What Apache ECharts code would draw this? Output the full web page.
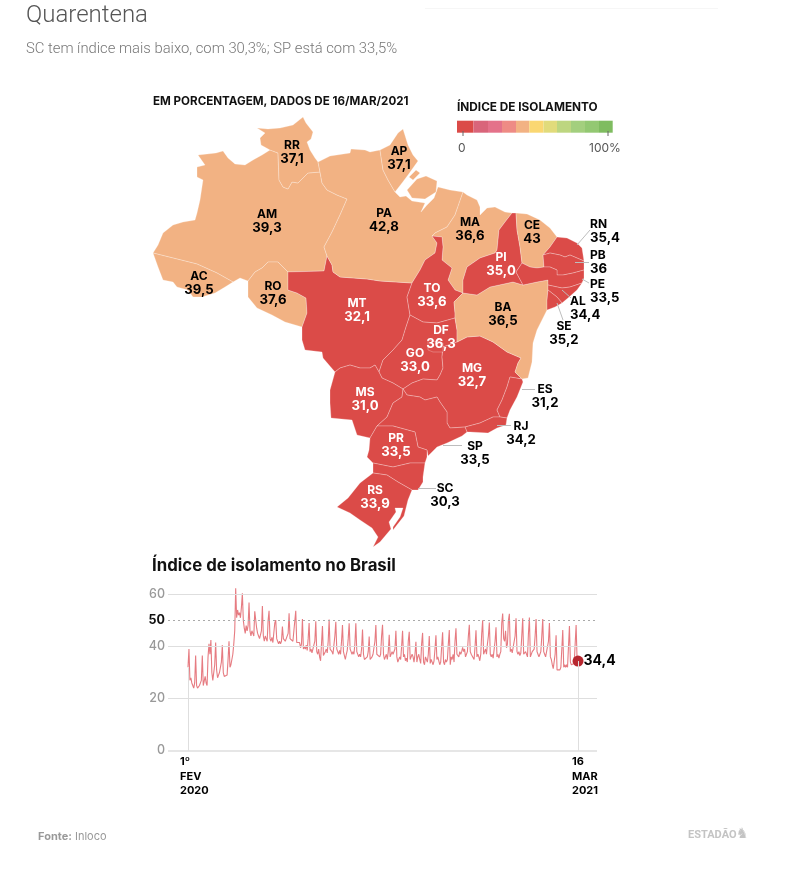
<!DOCTYPE html>
<html><head><meta charset="utf-8">
<style>html,body{margin:0;padding:0;background:#fff}#c{width:786px;height:878px}</style>
<script src="https://cdn.jsdelivr.net/npm/echarts@6/dist/echarts.min.js"></script>
</head><body><div id="c"></div>
<script>
const FONT='Inter, Roboto, sans-serif';
const stateCodes=['RR','AP','AM','PA','MA','CE','RN','PB','PE','AL','SE','AC','RO','MT','TO','PI','BA','DF','GO','MG','MS','PR','RS','ES','RJ','SP','SC'];
const stateValues=['37,1','37,1','39,3','42,8','36,6','43','35,4','36','33,5','34,4','35,2','39,5','37,6','32,1','33,6','35,0','36,5','36,3','33,0','32,7','31,0','33,5','33,9','31,2','34,2','33,5','30,3'];
const whiteLabels=['MT','TO','PI','DF','GO','MG','MS','PR','RS'];
const leftLabels=['RN','PB','PE','AL'];
const labelAnchors=[[292,153],[399,159],[267,222],[384,221],[470,230],[532,233],[590,232],[590,263],[590,292],[570,309],[564,334],[199,284],[273,294],[357,311],[432,296],[501,265],[503,315],[441,338],[415,361],[472,376],[365,400],[396,446],[375,498],[545,397],[521,434],[475,454],[445,496]];
const leaders=[[[577,245],[590,230]],[[575,262],[589,262]],[[582,279],[589,283]],[[562,290],[571,298]],[[557,303],[563,320]],[[522,389],[535,389]],[[497,425],[511,425]],[[443,445],[462,445]],[[418,488],[436,488]]];
const legendColors=['#db4b48','#d9657a','#e4728a','#ee8b85','#f2b283','#fad772','#e1db7b','#bdd680','#a3cf7e','#93c872','#7fbc60'];
const yTicks=[0,20,40,50,60];
const xLabels=['1º\nFEV\n2020','16\nMAR\n2021'];
const lastLabel='34,4';
// daily index, Sat..Fri rows, 1 Feb 2020 - 16 Mar 2021
const dailyIndex=[
32,39,27,28,26,25,24,
26,36.5,25,24,24,25,24.5,
27,36.5,25,24.5,28.5,26,25,
36,41,37,42.5,30,27,27.5,
33,41.5,31,28,29,30,29.5,
34,40.5,30,28.5,29,28,29,
35,42,32,33,35,37,41,
46,62.3,51,54,52,53,51,
55,60.4,50,47,45,48,46,
48,56.9,46,44,46,45,44,
53.5,54.2,47,45,44,43,43.5,
46,55.5,44,42,44,43,42,
50,53.7,43,42,43.5,41.5,42,
49,50.1,43,42,41,42,41,
42,47.6,43,43.5,42,43,42.5,
45,52.7,43,42.5,43,42,41.5,
42,53.7,41.5,41,42,41.5,39.5,
41,50.5,39,40,39,40.5,38.5,
43,49,38,39,37.5,38,37,
42,49.7,38,37,39,36,34.5,
41,47.8,36.5,37,38,39,37.5,
42,50.3,39,38.5,38,37,37.5,
44,49.5,39,38,37,38.5,37,
42,48.2,38,36.5,35,37,38.5,
43,48.9,39,38,37,38,37,
41,48.9,38,37.5,36,37,36,
39,46.5,37,35,35.5,34.5,36,
38,43.8,35,34.5,36,37,36.5,
42,48.2,37,36.5,37,36,37,
44,48.3,37,35,36,37,35,
38,44.5,36,35.5,38,37,36.5,
39,46,36,34,35,36,35,
40,46,36,37,34.5,35.5,34,
42,45.6,35,36,37,36,34,
37,41.8,34,36,37,35,33.5,
41,45.2,34,33,36,35,34,
37,44,33.5,35,34,33,34.5,
39,44.3,35,36,34.5,33,34,
40,45.4,34,33,35,34,35,
41,46.3,33,36,35,37,34,
42,47,37,37.5,36,38,37,
38,39.6,38,39,36,37,38,
44,48.3,38,37,36.5,37,35,
40,46.2,36,37,36,34.5,37,
45,50,37,38,39,37,41,
44,49.2,37,36,37,35.5,36,
42,47.4,36,37,35.5,37,38,
49,52.6,43,42,46,39.5,41,
50,52.5,38,39,37.5,38,37,
44,50.8,38,37,38,36.5,37.5,
44,50.8,37,37.5,38,37,36,
45,51.1,36,37,38,37.5,39,
44,50.5,38,37,36,37,38,
44,50.5,38,37,36,35.5,36,
42,49,36,35,33,31.5,31,
37,44.3,31,31.5,30.5,31,32,
39,46.3,32,33,32,33,32,
40,47.8,34,33,32.5,33,33.5,
41,48.2,35,34.4];

// shared state borders (outline geometry of the base map)
const arcs={
amN:[[153,253],[158,245],[163,233],[173,225],[183,222],[195,220],[197,213],[200,200],[203,180],[197,177],[197,167],[205,165],[198,155],[216,153],[223,151],[228,158],[235,164],[245,165],[253,160],[262,155],[270,150]],
rrOut:[[270,150],[261,145],[260,138],[265,133],[257,128],[268,129],[280,128],[293,125],[303,117],[306,123],[313,132],[311,139],[307,142],[310,150],[315,158],[318,162]],
rrAm:[[270,150],[278,153],[279,180],[283,187],[288,189],[292,182],[298,183],[303,178],[308,173],[320,172]],
rrPa:[[318,162],[320,172]],
amPa:[[320,172],[322,183],[327,190],[337,195],[347,199],[340,215],[332,232],[324,247],[327,256]],
amMt:[[327,256],[324,271],[288,272]],
amRo:[[288,272],[278,262],[268,262],[262,268],[255,272],[248,281]],
amS:[[248,281],[240,278],[233,282]],
acAm:[[233,282],[217,273],[197,264],[173,258],[153,253]],
acOut:[[233,282],[225,287],[215,293],[202,297],[193,297],[188,290],[177,287],[173,282],[163,280],[158,267],[153,253]],
roOut:[[248,281],[248,297],[257,308],[272,315],[285,322],[302,327]],
roMt:[[288,272],[288,290],[297,293],[306,298],[307,313],[302,327]],
mtS:[[302,327],[302,340],[305,350],[322,352],[323,358],[335,372]],
mtMs:[[335,372],[340,368],[350,365],[360,368],[370,368],[375,365],[379,372]],
mtGo:[[379,372],[383,360],[393,350],[402,340],[406,327],[410,315]],
mtTo:[[410,315],[407,297],[412,283]],
mtPa:[[327,256],[332,265],[333,272],[340,277],[367,279],[380,281],[412,283]],
paTo:[[412,283],[420,270],[425,260],[435,253],[437,243],[432,236]],
maTo:[[432,236],[442,237],[443,247],[442,260],[452,268],[448,280],[455,290],[463,293]],
toBa:[[463,293],[454,302],[455,313],[455,318]],
toGo:[[410,315],[423,322],[437,323],[455,318]],
goBa:[[455,318],[457,330],[457,342]],
goMg:[[457,342],[443,347],[442,357],[443,368],[440,375],[437,380],[423,379],[412,383],[403,389]],
goMs:[[379,372],[382,378],[393,383],[403,389]],
msSp:[[403,389],[402,397],[393,403],[387,417],[377,426]],
msPr:[[377,426],[370,438]],
msOut:[[335,372],[330,390],[330,403],[331,418],[352,420],[357,435],[370,438]],
prOut:[[370,438],[369,450],[367,457],[373,463]],
prSc:[[373,463],[393,467],[410,463],[425,463]],
prSp:[[377,426],[393,426],[415,432],[418,447],[427,450],[427,457]],
prCoast:[[427,457],[425,463]],
spCoast:[[467,432],[462,436],[447,443],[437,447],[428,456],[427,457]],
spMg:[[403,389],[407,395],[420,397],[425,400],[437,397],[440,402],[447,412],[447,423],[450,428],[465,427]],
spRj:[[465,427],[467,432]],
rjOut:[[467,432],[470,432],[488,433],[497,428],[506,425],[507,418]],
rjEs:[[507,418],[500,417]],
mgRj:[[465,427],[480,423],[493,417],[500,417]],
mgEs:[[500,417],[497,410],[502,400],[507,387],[510,377],[522,379]],
esOut:[[522,379],[523,382],[517,397],[510,410],[507,418]],
baMg:[[457,342],[467,337],[480,336],[493,342],[507,352],[521,358],[518,363],[515,372],[522,379]],
baCoast:[[522,379],[528,378],[532,362],[533,343],[537,330],[547,310]],
baSe:[[547,310],[547,300],[548,290]],
baNE:[[463,293],[477,295],[490,287],[513,282],[523,285]],
baPe:[[523,285],[537,282],[548,280],[548,285]],
baAl:[[548,285],[548,290]],
scCoast:[[425,463],[423,477],[423,482],[418,490],[412,490]],
scW:[[373,463],[373,473]],
rsSc:[[373,473],[387,475],[398,482],[412,490]],
rsOut:[[373,473],[360,483],[348,498],[337,507],[350,513],[360,520],[372,528],[378,537],[373,547],[380,542],[391,529],[389,522],[396,512],[395,508],[403,508],[400,517],[393,527],[393,530],[404,516],[408,500],[412,490]],
paN:[[318,162],[330,156],[350,153],[351,149],[365,150],[370,152],[380,150]],
apPa:[[380,150],[383,170],[388,180],[395,192]],
apOut:[[380,150],[390,145],[398,133],[403,129],[408,145],[413,155],[418,161],[413,168],[408,175],[402,183],[395,192]],
paCoast:[[395,192],[400,197],[406,196],[412,201],[425,203],[421,212],[427,205],[434,198],[438,187],[450,190],[463,192]],
paMa:[[432,236],[435,233],[447,227],[455,215],[463,192]],
maCoast:[[463,192],[467,195],[477,200],[480,207],[480,215],[487,208],[495,207],[505,212],[512,213]],
maPi:[[512,213],[505,222],[499,230],[497,250],[495,253],[480,258],[467,267],[463,280],[463,293]],
piCoast:[[512,213],[516,213]],
piCe:[[516,213],[517,230],[520,247],[522,263]],
piPe:[[522,263],[516,272],[523,285]],
ceCoast:[[516,213],[527,214],[540,220],[550,228],[557,237]],
ceRn:[[557,237],[550,247],[543,255]],
cePb:[[543,255],[544,267]],
cePe:[[544,267],[537,268],[530,267],[522,263]],
rnCoast:[[557,237],[567,238],[577,243],[582,248],[584,261]],
rnPb:[[543,255],[550,253],[560,255],[565,257],[570,255],[577,258],[584,261]],
pbCoast:[[584,261],[584,270]],
pbPe:[[544,267],[550,267],[557,270],[557,275],[563,275],[573,273],[584,270]],
peCoast:[[584,270],[584,278],[582,283]],
peAl:[[548,285],[562,288],[570,287],[582,283]],
alCoast:[[582,283],[577,290],[568,298],[562,303]],
alSe:[[548,290],[557,297],[562,303]],
seCoast:[[562,303],[555,307],[547,310]]
};
const rings={
AM:['amN','rrAm','amPa','amMt','amRo','amS','acAm'],RR:['rrOut','rrPa','-rrAm'],AC:['acOut','-acAm'],
RO:['roOut','-roMt','amRo'],MT:['mtPa','-mtTo','-mtGo','-mtMs','-mtS','-roMt','-amMt'],
PA:['paN','apPa','paCoast','-paMa','-paTo','-mtPa','-amPa','-rrPa'],AP:['apOut','-apPa'],MA:['maCoast','maPi','-maTo','paMa'],
TO:['paTo','maTo','toBa','-toGo','mtTo'],GO:['toGo','goBa','goMg','-goMs','mtGo'],MS:['mtMs','goMs','msSp','msPr','-msOut'],
MG:['baMg','-mgEs','-mgRj','-spMg','-goMg'],ES:['esOut','rjEs','mgEs'],RJ:['rjOut','rjEs','-mgRj','spRj'],
SP:['spMg','spRj','spCoast','-prSp','-msSp'],PR:['prSp','prCoast','-prSc','-prOut','-msPr'],SC:['prSc','scCoast','-rsSc','-scW'],RS:['rsOut','-rsSc'],
BA:['baNE','baPe','baAl','-baSe','-baCoast','-baMg','-goBa','-toBa'],PI:['piCoast','piCe','piPe','-baNE','-maPi'],
CE:['ceCoast','ceRn','cePb','cePe','-piCe'],RN:['rnCoast','-rnPb','-ceRn'],PB:['pbCoast','-pbPe','-cePb','rnPb'],
PE:['peCoast','-peAl','-baPe','-piPe','-cePe','pbPe'],AL:['alCoast','-alSe','-baAl','peAl'],SE:['seCoast','baSe','alSe']
};
const extraPolys={
PA:[[[417,179],[426,176],[437,181],[436,192],[425,199],[412,198],[407,190],[417,179]],
    [[409,177],[416,170],[420,173],[413,180],[409,177]]]
};
const dfRing=[[428,340],[443,343],[443,352],[433,352],[428,350],[428,340]];

function buildRing(spec){const r=[];spec.forEach(s=>{const rev=s[0]==='-';const a=arcs[rev?s.slice(1):s];(rev?a.slice().reverse():a).forEach(p=>r.push(p));});r.push(r[0]);return r;}
const features=Object.keys(rings).map(n=>{
  const ring=buildRing(rings[n]);
  const geometry=extraPolys[n]?{type:'MultiPolygon',coordinates:[[ring]].concat(extraPolys[n].map(p=>[p]))}:{type:'Polygon',coordinates:[ring]};
  return {type:'Feature',properties:{name:n},geometry};
});
features.push({type:'Feature',properties:{name:'DF'},geometry:{type:'Polygon',coordinates:[dfRing]}});
echarts.registerMap('BR',{type:'FeatureCollection',features});

const num=s=>parseFloat(s.replace(',','.'));
const chart=echarts.init(document.getElementById('c'),null,{renderer:'canvas'});
const identity={project:p=>[p[0],p[1]],unproject:p=>[p[0],p[1]]};
const n=dailyIndex.length;
const lineData=dailyIndex.map((v,i)=>[i,v]);
const gridGray='#dedede';
const legendX=[457,473.5,488,502,516,529.3,543.5,557,571,585,599,612.7];
const graphic=[
 {type:'line',shape:{x1:425,y1:8.5,x2:718,y2:8.5},style:{stroke:'#f6f6f6',lineWidth:1}},
 {type:'text',left:26,top:4,style:{text:'Quarentena',font:'300 24px Roboto, sans-serif',fill:'#555'}},
 {type:'text',left:26,top:42,style:{text:'SC tem índice mais baixo, com 30,3%; SP está com 33,5%',font:'300 14.8px Roboto, sans-serif',fill:'#777'}},
 {type:'text',left:153,top:96,style:{text:'EM PORCENTAGEM, DADOS DE 16/MAR/2021',font:'700 11.6px '+FONT,fill:'#111'}},
 {type:'text',left:457,top:101,style:{text:'ÍNDICE DE ISOLAMENTO',font:'700 11.8px '+FONT,fill:'#111'}},
 {type:'text',left:152,top:557,style:{text:'Índice de isolamento no Brasil',font:'700 16.8px '+FONT,fill:'#111'}},
 {type:'text',left:458,top:142,style:{text:'0',font:'400 12px '+FONT,fill:'#555'}},
 {type:'text',left:589,top:142,style:{text:'100%',font:'400 12px '+FONT,fill:'#555'}},
 {type:'text',left:38,top:831,style:{text:'Fonte:',font:'700 11px '+FONT,fill:'#999'}},
 {type:'text',left:75,top:831,style:{text:'Inloco',font:'400 11px '+FONT,fill:'#999'}},
 {type:'text',left:688,top:830,style:{text:'ESTADÃO',font:'700 11px Roboto, sans-serif',fill:'#c4c4c4'}},
 {type:'text',left:736,top:827,style:{text:'♞',font:'400 14px "DejaVu Sans"',fill:'#c4c4c4'}}
];
legendColors.forEach((c,i)=>graphic.push({type:'rect',shape:{x:legendX[i],y:120.7,width:legendX[i+1]-legendX[i],height:12},style:{fill:c}}));
[463,608].forEach(x=>graphic.push({type:'line',z:5,shape:{x1:x,y1:131,x2:x,y2:136},style:{stroke:'#666',lineWidth:1}}));

chart.setOption({
 animation:false,
 textStyle:{fontFamily:FONT},
 graphic,
 geo:{map:'BR',projection:identity,boundingCoords:[[0,0],[786,878]],left:0,top:0,width:786,height:878,roam:false,silent:true,
   label:{show:false},itemStyle:{borderColor:'rgba(255,255,255,0.32)',borderWidth:0.8},emphasis:{disabled:true}},
 visualMap:{show:false,seriesIndex:0,type:'piecewise',pieces:[{lt:36.4,color:'#db4b48'},{gte:36.4,color:'#f2b283'}]},
 grid:{left:168,width:429,top:583.9,height:166.8,containLabel:false},
 xAxis:{type:'value',min:-20.98,max:428.9,splitLine:{show:false},axisLine:{show:false},
   axisTick:{show:false},axisLabel:{show:false}},
 yAxis:{type:'value',min:0,max:64,interval:10,splitLine:{show:false},axisLine:{show:false},axisTick:{show:false},
   axisLabel:{margin:3,showMaxLabel:false,color:'#999',fontSize:12.5,fontWeight:500,fontFamily:FONT,
     formatter:v=>v===50?'{b|50}':(yTicks.includes(v)?String(v):''),rich:{b:{color:'#111',fontWeight:700,fontSize:12.5,fontFamily:FONT}}}},
 series:[
  {type:'map',geoIndex:0,data:stateCodes.map((c,i)=>({name:c,value:num(stateValues[i])}))},
  {type:'lines',coordinateSystem:'geo',polyline:false,silent:true,symbol:'none',z:3,
   lineStyle:{color:'#bdbdbd',width:1,opacity:1,curveness:0},data:leaders.map(l=>({coords:l}))},
  {type:'scatter',coordinateSystem:'geo',symbolSize:0,silent:true,z:5,itemStyle:{opacity:1},
   data:stateCodes.map((c,i)=>{
     const left=leftLabels.includes(c), col=whiteLabels.includes(c)?'#fff':'#000', al=left?'left':'center';
     return {value:labelAnchors[i],name:c,
     label:{show:true,position:'inside',align:al,opacity:1,formatter:()=>`{a|${c}}\n{v|${stateValues[i]}}`,
       rich:{a:{fontFamily:FONT,fontWeight:700,fontSize:12,lineHeight:13,align:al,color:col},
             v:{fontFamily:FONT,fontWeight:700,fontSize:13.2,lineHeight:15,align:al,color:col}}}};})},
  {type:'line',xAxisIndex:0,yAxisIndex:0,data:[[0,0]],showSymbol:false,silent:true,z:1,lineStyle:{opacity:0},
   markLine:{silent:true,symbol:'none',label:{show:false},animation:false,data:[
     {yAxis:60,lineStyle:{color:gridGray,width:1,type:'solid'}},
     {yAxis:50,lineStyle:{color:'#aaa',width:1,type:[2,3]}},
     {yAxis:40,lineStyle:{color:gridGray,width:1,type:'solid'}},
     {yAxis:20,lineStyle:{color:gridGray,width:1,type:'solid'}},
     {yAxis:0,lineStyle:{color:'#e6e6e6',width:2,type:'solid'}},
     [{coord:[0,0],lineStyle:{color:gridGray,width:1,type:'solid'}},{coord:[0,dailyIndex[0]]}],
     [{coord:[n-1,0],lineStyle:{color:gridGray,width:1,type:'solid'}},{coord:[n-1,dailyIndex[n-1]]}]
   ]}},
  {type:'line',xAxisIndex:0,yAxisIndex:0,data:lineData,showSymbol:false,silent:true,z:2,
   lineStyle:{color:'#de4f57',width:1.1,opacity:0.75}},
  {type:'scatter',xAxisIndex:0,yAxisIndex:0,symbolSize:11,silent:true,z:4,itemStyle:{color:'#b8272f',opacity:1},
   data:[{value:[n-1,dailyIndex[n-1]],label:{show:true,position:'right',distance:0,formatter:lastLabel,fontFamily:FONT,fontWeight:700,fontSize:14,color:'#000'}}]},
  {type:'scatter',xAxisIndex:0,yAxisIndex:0,symbolSize:0,silent:true,z:4,itemStyle:{opacity:1},
   data:[{value:[-8.4,0],tx:xLabels[0]},{value:[n-1-6.3,0],tx:xLabels[1]}].map(d=>({value:d.value,
     label:{show:true,position:'insideTopLeft',distance:0,offset:[0,4],align:'left',verticalAlign:'top',formatter:d.tx,fontFamily:FONT,fontWeight:700,fontSize:11,lineHeight:14.5,color:'#000'}}))}
 ]
});
</script></body></html>
